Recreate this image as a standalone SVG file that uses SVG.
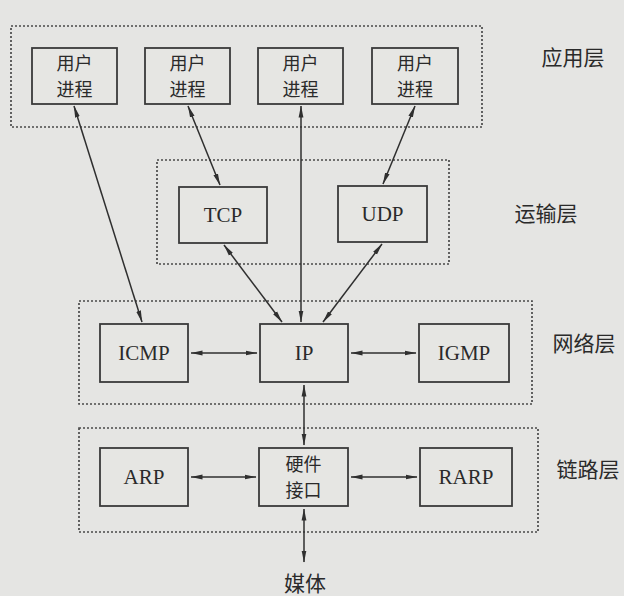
<svg xmlns="http://www.w3.org/2000/svg" width="624" height="596" viewBox="0 0 624 596">
<defs>
<marker id="ah" viewBox="0 0 12 6" refX="11.5" refY="3" markerWidth="12" markerHeight="6" markerUnits="userSpaceOnUse" orient="auto-start-reverse">
<path d="M0,0.6 L12,3 L0,5.4 Z" fill="#2f2f2f"/>
</marker>
<style>
.layer{fill:none;stroke:#4a4a4a;stroke-width:1.7;stroke-dasharray:2 2}
.box{fill:#e6e6e3;stroke:#3a3a3a;stroke-width:1.8}
.t{font-family:"Liberation Serif","Noto Sans CJK SC",serif;font-size:21px;fill:#2a2a2a;text-anchor:middle}
.cj{font-family:"Noto Sans CJK SC","Liberation Serif",serif;font-size:18px;fill:#2a2a2a;text-anchor:middle}
.lab{font-family:"Noto Sans CJK SC",sans-serif;font-size:21px;fill:#2a2a2a;text-anchor:middle}
.c{stroke:#2f2f2f;stroke-width:1.5;fill:none;marker-start:url(#ah);marker-end:url(#ah)}
</style>
</defs>
<rect width="624" height="596" fill="#e5e5e3"/>

<g id="layers">
<rect class="layer" x="11" y="26" width="471" height="101"/>
<rect class="layer" x="157" y="160" width="292" height="104"/>
<rect class="layer" x="79" y="301" width="453" height="103"/>
<rect class="layer" x="79" y="428" width="459" height="104"/>
</g>

<g id="up1"><rect class="box" x="32" y="48" width="85" height="56"/><text class="cj" x="74.5" y="70">用户</text><text class="cj" x="74.5" y="96">进程</text></g>
<g id="up2"><rect class="box" x="145" y="48" width="85" height="56"/><text class="cj" x="187.5" y="70">用户</text><text class="cj" x="187.5" y="96">进程</text></g>
<g id="up3"><rect class="box" x="258" y="48" width="85" height="56"/><text class="cj" x="300.5" y="70">用户</text><text class="cj" x="300.5" y="96">进程</text></g>
<g id="up4"><rect class="box" x="372" y="48" width="86" height="56"/><text class="cj" x="415" y="70">用户</text><text class="cj" x="415" y="96">进程</text></g>

<g id="tcp"><rect class="box" x="179" y="187" width="88" height="56"/><text class="t" x="223" y="222">TCP</text></g>
<g id="udp"><rect class="box" x="338" y="186" width="89" height="56"/><text class="t" x="382.5" y="221">UDP</text></g>

<g id="icmp"><rect class="box" x="100" y="324" width="88" height="58"/><text class="t" x="144" y="360">ICMP</text></g>
<g id="ip"><rect class="box" x="260" y="324" width="88" height="58"/><text class="t" x="304" y="360">IP</text></g>
<g id="igmp"><rect class="box" x="419" y="324" width="90" height="58"/><text class="t" x="464" y="360">IGMP</text></g>

<g id="arp"><rect class="box" x="100" y="448" width="88" height="58"/><text class="t" x="144" y="484">ARP</text></g>
<g id="hw"><rect class="box" x="259" y="448" width="89" height="58"/><text class="cj" x="303.5" y="471">硬件</text><text class="cj" x="303.5" y="497">接口</text></g>
<g id="rarp"><rect class="box" x="420" y="448" width="92" height="58"/><text class="t" x="466" y="484">RARP</text></g>

<g id="labels">
<text class="lab" x="573" y="65">应用层</text>
<text class="lab" x="546" y="221">运输层</text>
<text class="lab" x="584" y="351">网络层</text>
<text class="lab" x="588" y="477">链路层</text>
<text class="lab" x="305" y="591">媒体</text>
</g>

<g id="connectors">
<line class="c" x1="74" y1="106" x2="142" y2="322"/>
<line class="c" x1="188" y1="106" x2="220" y2="185"/>
<line class="c" x1="301" y1="106" x2="301" y2="322"/>
<line class="c" x1="415" y1="106" x2="383" y2="184"/>
<line class="c" x1="224" y1="245" x2="282" y2="322"/>
<line class="c" x1="382" y1="244" x2="323" y2="322"/>
<line class="c" x1="191" y1="353" x2="257" y2="353"/>
<line class="c" x1="351" y1="353" x2="416" y2="353"/>
<line class="c" x1="304" y1="385" x2="304" y2="445"/>
<line class="c" x1="191" y1="477" x2="256" y2="477"/>
<line class="c" x1="351" y1="477" x2="417" y2="477"/>
<line class="c" x1="304" y1="509" x2="304" y2="562"/>
</g>
</svg>
